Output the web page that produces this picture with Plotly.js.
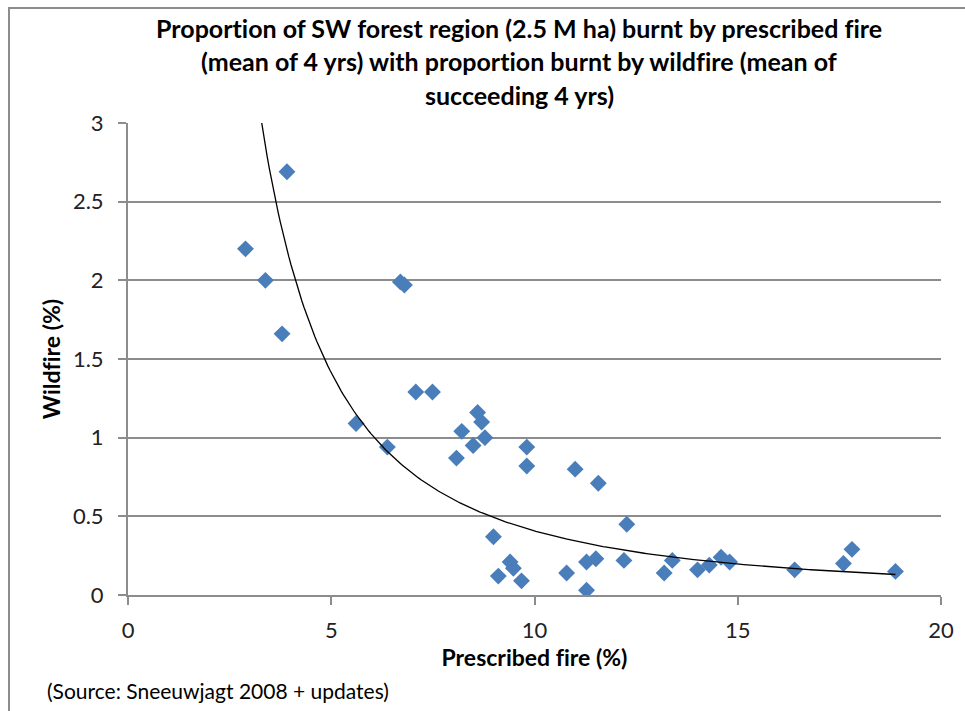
<!DOCTYPE html>
<html>
<head>
<meta charset="utf-8">
<script src="https://cdn.plot.ly/plotly-3.0.1.min.js"></script>
<style>
  html, body { margin: 0; padding: 0; background: #fff; }
  #chart { position: absolute; left: 0; top: 0; width: 965px; height: 711px; }
  #chart text { font-variant-ligatures: none; font-feature-settings: "liga" 0, "clig" 0; }
  #frame { position: absolute; left: 8px; top: 7px; width: 1000px; height: 800px;
           border: 2px solid #8c8c8c; pointer-events: none; box-sizing: border-box; }
</style>
</head>
<body>
<div id="chart"></div>
<div id="frame"></div>
<script>
// Prescribed fire (% of region, mean of 4 yrs)
const prescribedFire = [2.89, 3.38, 3.79, 3.91, 5.61, 6.38, 6.70, 6.80, 7.08, 7.49,
  8.08, 8.21, 8.49, 8.60, 8.70, 8.78, 8.99, 9.11, 9.40, 9.48,
  9.68, 9.81, 9.81, 10.79, 11.00, 11.28, 11.28, 11.51, 11.57, 12.20,
  12.27, 13.19, 13.39, 14.01, 14.30, 14.59, 14.80, 16.40, 17.60, 17.81, 18.88];
// Wildfire (% of region, mean of succeeding 4 yrs)
const wildfire = [2.20, 2.00, 1.66, 2.69, 1.09, 0.94, 1.99, 1.97, 1.29, 1.29,
  0.87, 1.04, 0.95, 1.16, 1.10, 1.00, 0.37, 0.12, 0.21, 0.17,
  0.09, 0.94, 0.82, 0.14, 0.80, 0.21, 0.03, 0.23, 0.71, 0.22,
  0.45, 0.14, 0.22, 0.16, 0.19, 0.24, 0.21, 0.16, 0.20, 0.29, 0.15];

const titleLines = [
  "Proportion of SW forest region (2.5 M ha) burnt by prescribed fire",
  "(mean of 4 yrs) with proportion burnt by wildfire (mean of",
  "succeeding 4 yrs)"
];
const xTitle = "Prescribed fire (%)";
const yTitle = "Wildfire (%)";
const sourceNote = "(Source: Sneeuwjagt 2008 + updates)";

// Power trendline (least squares in log-log space), like a spreadsheet "power" trendline
let n = prescribedFire.length, sx = 0, sy = 0, sxx = 0, sxy = 0;
for (let i = 0; i < n; i++) {
  const lx = Math.log(prescribedFire[i]), ly = Math.log(wildfire[i]);
  sx += lx; sy += ly; sxx += lx * lx; sxy += lx * ly;
}
const b = (n * sxy - sx * sy) / (n * sxx - sx * sx);
const a = Math.exp((sy - b * sx) / n);
const xmin = Math.min(...prescribedFire), xmax = Math.max(...prescribedFire);
const trendX = [], trendY = [];
for (let k = 0; k <= 300; k++) {
  const x = xmin + (xmax - xmin) * k / 300;
  trendX.push(x); trendY.push(a * Math.pow(x, b));
}

const FONT = 'Lato, "Open Sans", sans-serif';

const traces = [
  {
    x: prescribedFire, y: wildfire, type: 'scatter', mode: 'markers',
    marker: { symbol: 'diamond', size: 13, color: '#4a7ebb', line: { width: 0 } },
    hoverinfo: 'x+y', showlegend: false
  },
  {
    x: trendX, y: trendY, type: 'scatter', mode: 'lines',
    line: { color: '#000', width: 1.3 }, hoverinfo: 'skip', showlegend: false
  }
];

const annotations = titleLines.map((t, i) => ({
  text: '<b>' + t + '</b>', xref: 'paper', yref: 'paper',
  x: (519 - 128) / (941 - 128), y: 1 + (123 - (28 + 33.5 * i)) / 472,
  xanchor: 'center', yanchor: 'middle', showarrow: false,
  font: { family: FONT, size: 25, color: '#000' }
}));
annotations.push({
  text: sourceNote, xref: 'paper', yref: 'paper',
  x: (45 - 128) / (941 - 128), y: -(690 - 595) / 472,
  xanchor: 'left', yanchor: 'middle', showarrow: false,
  font: { family: FONT, size: 21, color: '#000' }
});

const layout = {
  width: 965, height: 711,
  margin: { l: 128, r: 24, t: 123, b: 116, pad: 0 },
  paper_bgcolor: 'rgba(0,0,0,0)', plot_bgcolor: '#fff',
  font: { family: FONT, color: '#000' },
  xaxis: {
    range: [0, 20], tickvals: [0, 5, 10, 15, 20], ticktext: ['0', '5', '10', '15', '20'],
    showgrid: false, zeroline: false, showline: true, linecolor: '#8c8c8c', linewidth: 2,
    ticks: 'outside', ticklen: 8, tickcolor: '#8c8c8c', tickwidth: 2,
    tickfont: { family: FONT, size: 22, color: '#222' }, ticklabelstandoff: 7,
    title: { text: '<b>' + xTitle + '</b>', font: { family: FONT, size: 23, color: '#000' }, standoff: 6 }
  },
  yaxis: {
    range: [0, 3], tickvals: [0, 0.5, 1, 1.5, 2, 2.5, 3], ticktext: ['0', '0.5', '1', '1.5', '2', '2.5', '3'],
    showgrid: true, gridcolor: '#8c8c8c', gridwidth: 2,
    zeroline: false, showline: true, linecolor: '#8c8c8c', linewidth: 2,
    ticks: 'outside', ticklen: 8, tickcolor: '#8c8c8c', tickwidth: 2,
    tickfont: { family: FONT, size: 22, color: '#222' }, ticklabelstandoff: 10,
    title: { text: '<b>' + yTitle + '</b>', font: { family: FONT, size: 23, color: '#000' }, standoff: 6 }
  },
  annotations: annotations,
  showlegend: false
};

Plotly.newPlot('chart', traces, layout, { displayModeBar: false, staticPlot: true });
</script>
</body>
</html>
